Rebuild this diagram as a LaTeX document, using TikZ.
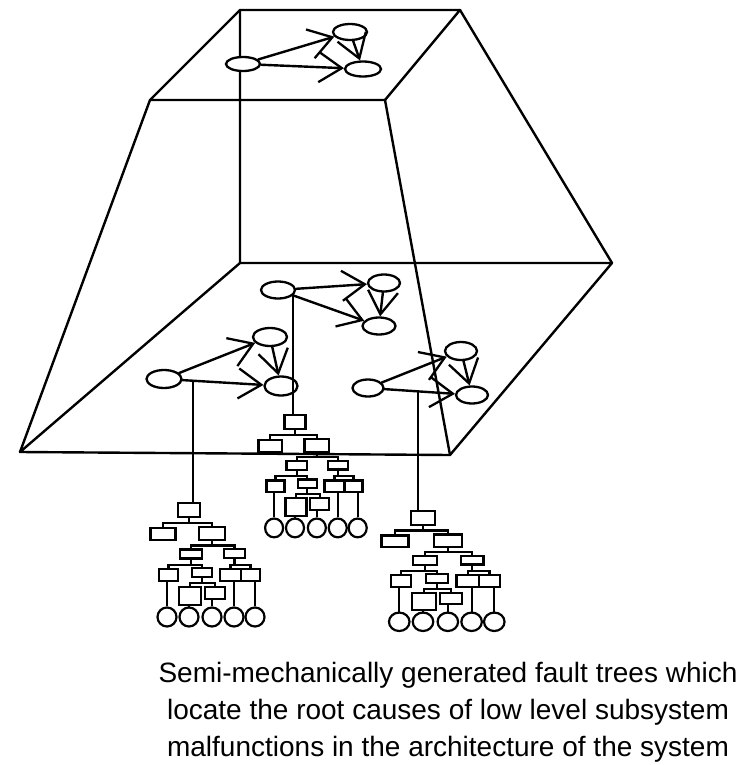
\documentclass[tikz,border=0pt]{standalone}
\usepackage{fontspec}
\setmainfont{Liberation Sans}
\usetikzlibrary{shapes.geometric,arrows.meta,calc}

\tikzset{
  edge/.style={line width=2.4pt, line cap=round, line join=round},
  state/.style={ellipse, draw, fill=white, line width=2.3pt, inner sep=0pt},
  arr/.style={edge, -{Straight Barb[length=23pt,width=30pt,line width=2.3pt]}},
  ftbox/.style={rectangle, draw, fill=white, line width=2.2pt, inner sep=0pt},
  leaf/.style={circle, draw, fill=white, line width=2.2pt, inner sep=0pt, minimum size=19pt},
  ftlink/.style={line width=2.2pt},
  % one fault tree: gate boxes on four levels, five basic events at the bottom
  pics/faulttree/.style={code={
    \node[ftbox, minimum width=22pt, minimum height=14pt] (top) at (0,0) {};
    \node[ftbox, minimum width=25pt, minimum height=12pt] (a) at (-26,24) {};
    \node[ftbox, minimum width=26pt, minimum height=13pt] (b) at (23,23.5) {};
    \node[ftbox, minimum width=22pt, minimum height=9pt] (c) at (2,44) {};
    \node[ftbox, minimum width=21pt, minimum height=9pt] (d) at (45.5,43.5) {};
    \node[ftbox, minimum width=19pt, minimum height=12pt] (e) at (-20.5,65) {};
    \node[ftbox, minimum width=20pt, minimum height=9pt] (f) at (13,62.5) {};
    \node[ftbox, minimum width=21pt, minimum height=12pt] (g) at (41.5,65) {};
    \node[ftbox, minimum width=19pt, minimum height=12pt] (h) at (61.5,65) {};
    \node[ftbox, minimum width=22pt, minimum height=18pt] (i) at (1,86) {};
    \node[ftbox, minimum width=20pt, minimum height=12pt] (j) at (26,83) {};
    \foreach \k/\x in {1/-22,2/0,3/23,4/45,5/66}
      \node[leaf] (ev\k) at (\x,107) {};
    % gate connections
    \draw[ftlink] (a.north) -- ++(0,-4) coordinate (ab) -| (b.north);
    \draw[ftlink] (top.south) -- (top.south |- ab);
    \draw[ftlink] (c.north) -- ++(0,-3) coordinate (cd) -| (d.north);
    \draw[ftlink] (b.south) -- (b.south |- cd);
    \draw[ftlink] (e.north) -- ++(0,-3) coordinate (ef) -| (f.north);
    \draw[ftlink] (c.south) -- (c.south |- ef);
    \draw[ftlink] (g.north) -- ++(0,-3) coordinate (gh) -| (h.north);
    \draw[ftlink] (d.south) -- (d.south |- gh);
    \draw[ftlink] (i.north) -- ++(0,-3) coordinate (ij) -| (j.north);
    \draw[ftlink] (f.south) -- (f.south |- ij);
    % basic events
    \draw[ftlink] (ev1.north) -- (ev1.north |- e.south);
    \draw[ftlink] (ev2.north) -- (ev2.north |- i.south);
    \draw[ftlink] (ev3.north) -- (ev3.north |- j.south);
    \draw[ftlink] (ev4.north) -- (ev4.north |- g.south);
    \draw[ftlink] (ev5.north) -- (ev5.north |- h.south);
  }}
}

\begin{document}
\begin{tikzpicture}[x=1pt, y=-1pt]
\useasboundingbox (0,0) rectangle (755,765);

% truncated pyramid
\coordinate (T1) at (240,10);
\coordinate (T2) at (460,10);
\coordinate (T3) at (385,100);
\coordinate (T4) at (150,100);
\coordinate (B1) at (240,263);
\coordinate (B2) at (612,263);
\coordinate (B3) at (450,455);
\coordinate (B4) at (20,452);
\draw[edge] (T1) -- (T2) -- (T3) -- (T4) -- cycle;
\draw[edge] (B1) -- (B2) -- (B3) -- (B4) -- cycle;
\draw[edge] (T1) -- (B1) (T2) -- (B2) (T3) -- (B3) (T4) -- (B4);

% top level architecture
\node[state, minimum width=34pt, minimum height=14pt] (ta) at (243,64) {};
\node[state, minimum width=34pt, minimum height=16pt] (tb) at (350,32) {};
\node[state, minimum width=36pt, minimum height=15pt] (tc) at (363,69) {};
\draw[arr] (ta) -- (tb);
\draw[arr] (ta) -- (tc);
\draw[arr] (tb) -- (tc);

% subsystem in the middle
\node[state, minimum width=34pt, minimum height=17pt] (ma) at (278,290) {};
\node[state, minimum width=32pt, minimum height=17pt] (mb) at (384,283) {};
\node[state, minimum width=33pt, minimum height=17pt] (mc) at (379,326) {};
\draw[arr] (ma) -- (mb);
\draw[arr] (ma) -- coordinate[pos=0] (dm) (mc);
\draw[arr] (mb) -- (mc);

% subsystem on the left
\node[state, minimum width=35pt, minimum height=18pt] (la) at (164,379) {};
\node[state, minimum width=34pt, minimum height=18pt] (lb) at (270,337) {};
\node[state, minimum width=33pt, minimum height=19pt] (lc) at (281,386) {};
\draw[arr] (la) -- (lb);
\draw[arr] (la) -- coordinate[pos=0.13] (dl) (lc);
\draw[arr] (lb) -- (lc);

% subsystem on the right
\node[state, minimum width=31pt, minimum height=17pt] (ra) at (368,388) {};
\node[state, minimum width=32pt, minimum height=18pt] (rb) at (461,351) {};
\node[state, minimum width=32pt, minimum height=17pt] (rc) at (472,395) {};
\draw[arr] (ra) -- (rb);
\draw[arr] (ra) -- coordinate[pos=0.48] (dr) (rc);
\draw[arr] (rb) -- (rc);

% fault trees
\pic[transform shape] (L) at (189,510) {faulttree};
\pic[transform shape, xscale=0.95, yscale=0.99] (M) at (295,422) {faulttree};
\pic[transform shape, xscale=1.08, yscale=0.97] (R) at (423,518) {faulttree};

\draw[edge, line width=1.9pt] (dl) -- (dl |- Ltop.north);
\draw[edge, line width=1.9pt] (dm) -- (dm |- Mtop.north);
\draw[edge, line width=1.9pt] (dr) -- (dr |- Rtop.north);

\node[font=\fontsize{28}{37}\selectfont, align=center, inner sep=0pt] (cap) at (448,712)
  {Semi-mechanically generated fault trees which\\
   locate the root causes of low level subsystem\\
   malfunctions in the architecture of the system};
\end{tikzpicture}
\end{document}
